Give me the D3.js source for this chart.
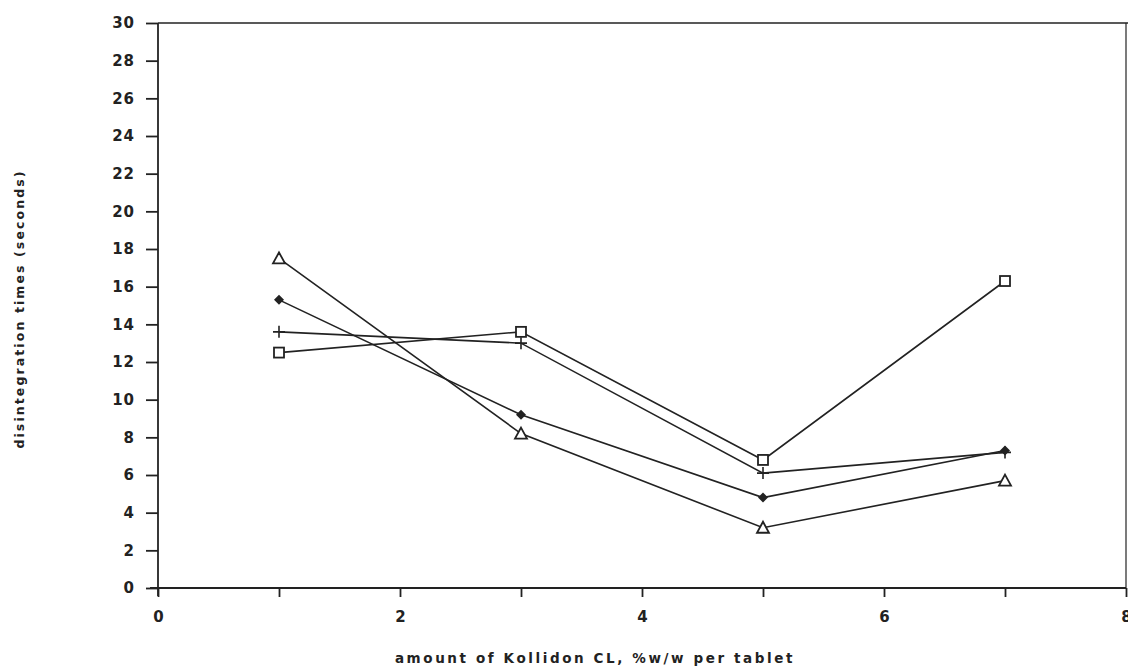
<!DOCTYPE html>
<html><head><meta charset="utf-8">
<script src="https://cdn.jsdelivr.net/npm/d3@7"></script>
<style>
body{margin:0;background:#fff;}
text{font-family:"DejaVu Sans",sans-serif;font-weight:bold;fill:#222;}
</style></head>
<body><svg id="c" width="1128" height="667"></svg>
<script>
const xValues = [1, 3, 5, 7];
const seriesSquare = [12.5, 13.6, 6.8, 16.3];
const seriesPlus = [13.6, 13.0, 6.1, 7.2];
const seriesDiamond = [15.3, 9.2, 4.8, 7.3];
const seriesTriangle = [17.5, 8.2, 3.2, 5.7];
const xTickLabels = ["0", "2", "4", "6", "8"];
const yTickLabels = ["0","2","4","6","8","10","12","14","16","18","20","22","24","26","28","30"];
const xTitle = "amount of Kollidon CL, %w/w per tablet";
const yTitle = "disintegration times (seconds)";

const svg = d3.select("#c");
const x = d3.scaleLinear().domain([0, 8]).range([158, 1126]);
const y = d3.scaleLinear().domain([0, 30]).range([588, 23]);
const ink = "#222";

// frame top & right
svg.append("line").attr("x1", x(0)).attr("x2", 1128).attr("y1", y(30)).attr("y2", y(30)).attr("stroke", ink).attr("stroke-width", 1.5);
svg.append("line").attr("x1", x(8)).attr("x2", x(8)).attr("y1", y(30)).attr("y2", y(0)).attr("stroke", ink).attr("stroke-width", 1.2);

// y axis
const yAxis = d3.axisLeft(y).tickValues(yTickLabels.map(Number)).tickSize(12).tickPadding(11).tickFormat(d => d);
const gy = svg.append("g").attr("transform", `translate(${x(0)},0)`).call(yAxis);
gy.attr("font-size", null);
gy.select(".domain").attr("stroke", ink).attr("stroke-width", 1.8).attr("d", `M0,${y(30)}V${y(0)+8}`);
gy.selectAll(".tick line").attr("stroke", ink).attr("stroke-width", 1.8);
gy.selectAll(".tick text").attr("font-size", 15).style("letter-spacing", "1px").attr("fill", ink);

// x axis
const xAxis = d3.axisBottom(x).ticks(8).tickSize(9).tickPadding(14).tickFormat(d => (d % 2 === 0 ? xTickLabels[d / 2] : ""));
const gx = svg.append("g").attr("transform", `translate(0,${y(0)})`).call(xAxis);
gx.attr("font-size", null);
gx.select(".domain").attr("stroke", ink).attr("stroke-width", 1.8).attr("d", `M${x(0)-8},0H${x(8)}`);
gx.selectAll(".tick line").attr("stroke", ink).attr("stroke-width", 1.8);
gx.selectAll(".tick text").attr("font-size", 15).attr("fill", ink);

// titles
svg.append("text").attr("x", 595).attr("y", 663).attr("text-anchor", "middle")
  .attr("font-size", 13.5).style("letter-spacing", "2.6px").text(xTitle);
svg.append("text").attr("transform", "translate(24,309) rotate(-90)").attr("text-anchor", "middle")
  .attr("font-size", 12.5).style("letter-spacing", "2.1px").text(yTitle);

const line = d3.line().x((d, i) => x(xValues[i])).y(d => y(d));
const series = [
  {data: seriesSquare, m: "square"},
  {data: seriesPlus, m: "plus"},
  {data: seriesDiamond, m: "diamond"},
  {data: seriesTriangle, m: "triangle"}
];
series.forEach(s => {
  svg.append("path").attr("d", line(s.data)).attr("fill", "none").attr("stroke", ink).attr("stroke-width", 1.6);
});
series.forEach(s => {
  const g = svg.append("g");
  s.data.forEach((v, i) => {
    const cx = x(xValues[i]), cy = y(v);
    if (s.m === "square") {
      g.append("rect").attr("x", cx - 5).attr("y", cy - 5).attr("width", 10).attr("height", 10)
        .attr("fill", "#fff").attr("stroke", ink).attr("stroke-width", 1.8);
    } else if (s.m === "plus") {
      g.append("path").attr("d", `M${cx-6},${cy}H${cx+6}M${cx},${cy-6}V${cy+6}`).attr("stroke", ink).attr("stroke-width", 1.6);
    } else if (s.m === "diamond") {
      g.append("path").attr("d", `M${cx},${cy-5}L${cx+5},${cy}L${cx},${cy+5}L${cx-5},${cy}Z`).attr("fill", ink);
    } else {
      g.append("path").attr("d", `M${cx},${cy-6}L${cx+6},${cy+5}L${cx-6},${cy+5}Z`)
        .attr("fill", "#fff").attr("stroke", ink).attr("stroke-width", 1.8);
    }
  });
});
</script></body></html>
